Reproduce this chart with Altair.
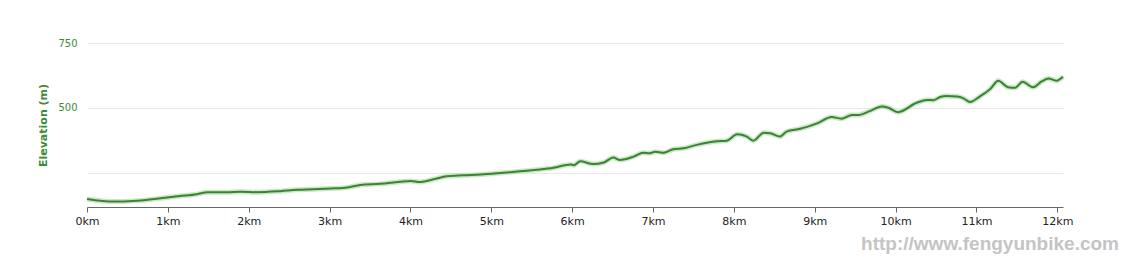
import altair as alt
import pandas as pd

# distance along route (km) and elevation (m)
km = [0.00, 0.33, 0.57, 0.91, 1.15, 1.36, 1.49, 1.73, 1.90, 2.11, 2.39, 2.60, 2.80, 3.01,
      3.22, 3.38, 3.63, 3.87, 4.00, 4.12, 4.24, 4.45, 4.65, 4.87, 5.15, 5.56, 5.77, 5.98,
      6.02, 6.10, 6.26, 6.39, 6.51, 6.59, 6.76, 6.88, 6.96, 7.03, 7.13, 7.25, 7.38, 7.54,
      7.79, 7.91, 8.04, 8.16, 8.24, 8.37, 8.45, 8.57, 8.65, 8.82, 9.03, 9.21, 9.33, 9.46,
      9.54, 9.68, 9.83, 9.91, 10.03, 10.26, 10.39, 10.47, 10.55, 10.63, 10.76, 10.84,
      10.92, 11.04, 11.17, 11.27, 11.39, 11.48, 11.57, 11.70, 11.81, 11.89, 11.99, 12.07]
elev = [150, 140, 142, 153, 161, 168, 176, 176, 178, 176, 180, 185, 187, 190,
        194, 204, 208, 216, 219, 215, 222, 237, 241, 244, 251, 262, 270, 283,
        280, 295, 284, 290, 309, 300, 313, 328, 326, 332, 328, 341, 345, 358,
        372, 374, 399, 390, 374, 405, 403, 390, 409, 420, 441, 465, 459, 473,
        473, 488, 506, 501, 484, 520, 531, 530, 542, 546, 544, 537,
        523, 544, 573, 605, 580, 578, 601, 580, 603, 613, 605, 620]

x_ticks = [0, 1, 2, 3, 4, 5, 6, 7, 8, 9, 10, 11, 12]
y_ticks = [250, 500, 750]
watermark = ["http://www.fengyunbike.com"]

df = pd.DataFrame({"km": km, "elev": elev})

W, H = 976, 164

x_enc = alt.X("km:Q",
              scale=alt.Scale(domain=[0, 12.07], nice=False, zero=False),
              axis=alt.Axis(values=x_ticks, labelExpr="datum.value + 'km'", title=None,
                            grid=False, domainColor="#666666", tickColor="#666666",
                            tickSize=5, labelColor="#222222", labelFontSize=11,
                            labelFont="DejaVu Sans", labelPadding=3, labelFlush=False))
y_enc = alt.Y("elev:Q",
              scale=alt.Scale(domain=[119, 750], nice=False, zero=False),
              axis=alt.Axis(values=y_ticks, labelExpr="datum.value == 250 ? '' : datum.value",
                            title="Elevation (m)", titleColor="#3d8a35", titleFontSize=11,
                            titleFont="DejaVu Sans", titleFontWeight="bold",
                            titleX=-44, titleY=82, titleAngle=-90, titleAlign="center",
                            titleBaseline="middle",
                            labelColor="#3d8a35", labelFontSize=10, labelFont="DejaVu Sans",
                            labelPadding=10, domain=False, ticks=False, grid=True,
                            gridColor="#e8e8e8", gridWidth=1))

glow = alt.Chart(df).mark_line(color="#a9d9a0", strokeWidth=5, opacity=0.6,
                               interpolate="monotone").encode(x=x_enc, y=y_enc)
line = alt.Chart(df).mark_line(color="#3b8236", strokeWidth=2,
                               interpolate="monotone").encode(x="km:Q", y="elev:Q")

wm = alt.Chart(pd.DataFrame({"t": watermark})).mark_text(
    font="Liberation Sans", fontWeight="bold",
    fontSize=19, color="#c4c4c4", align="right", baseline="alphabetic"
).encode(text="t:N", x=alt.value(1032), y=alt.value(207))

chart = alt.layer(glow, line, wm).properties(
    width=W, height=H,
    padding={"left": 87, "top": 43, "right": 61, "bottom": 50},
    autosize=alt.AutoSizeParams(type="none"),
    background="white"
).configure_view(stroke=None)

chart.save("out.html", embed_options={"renderer": "svg", "actions": False})
